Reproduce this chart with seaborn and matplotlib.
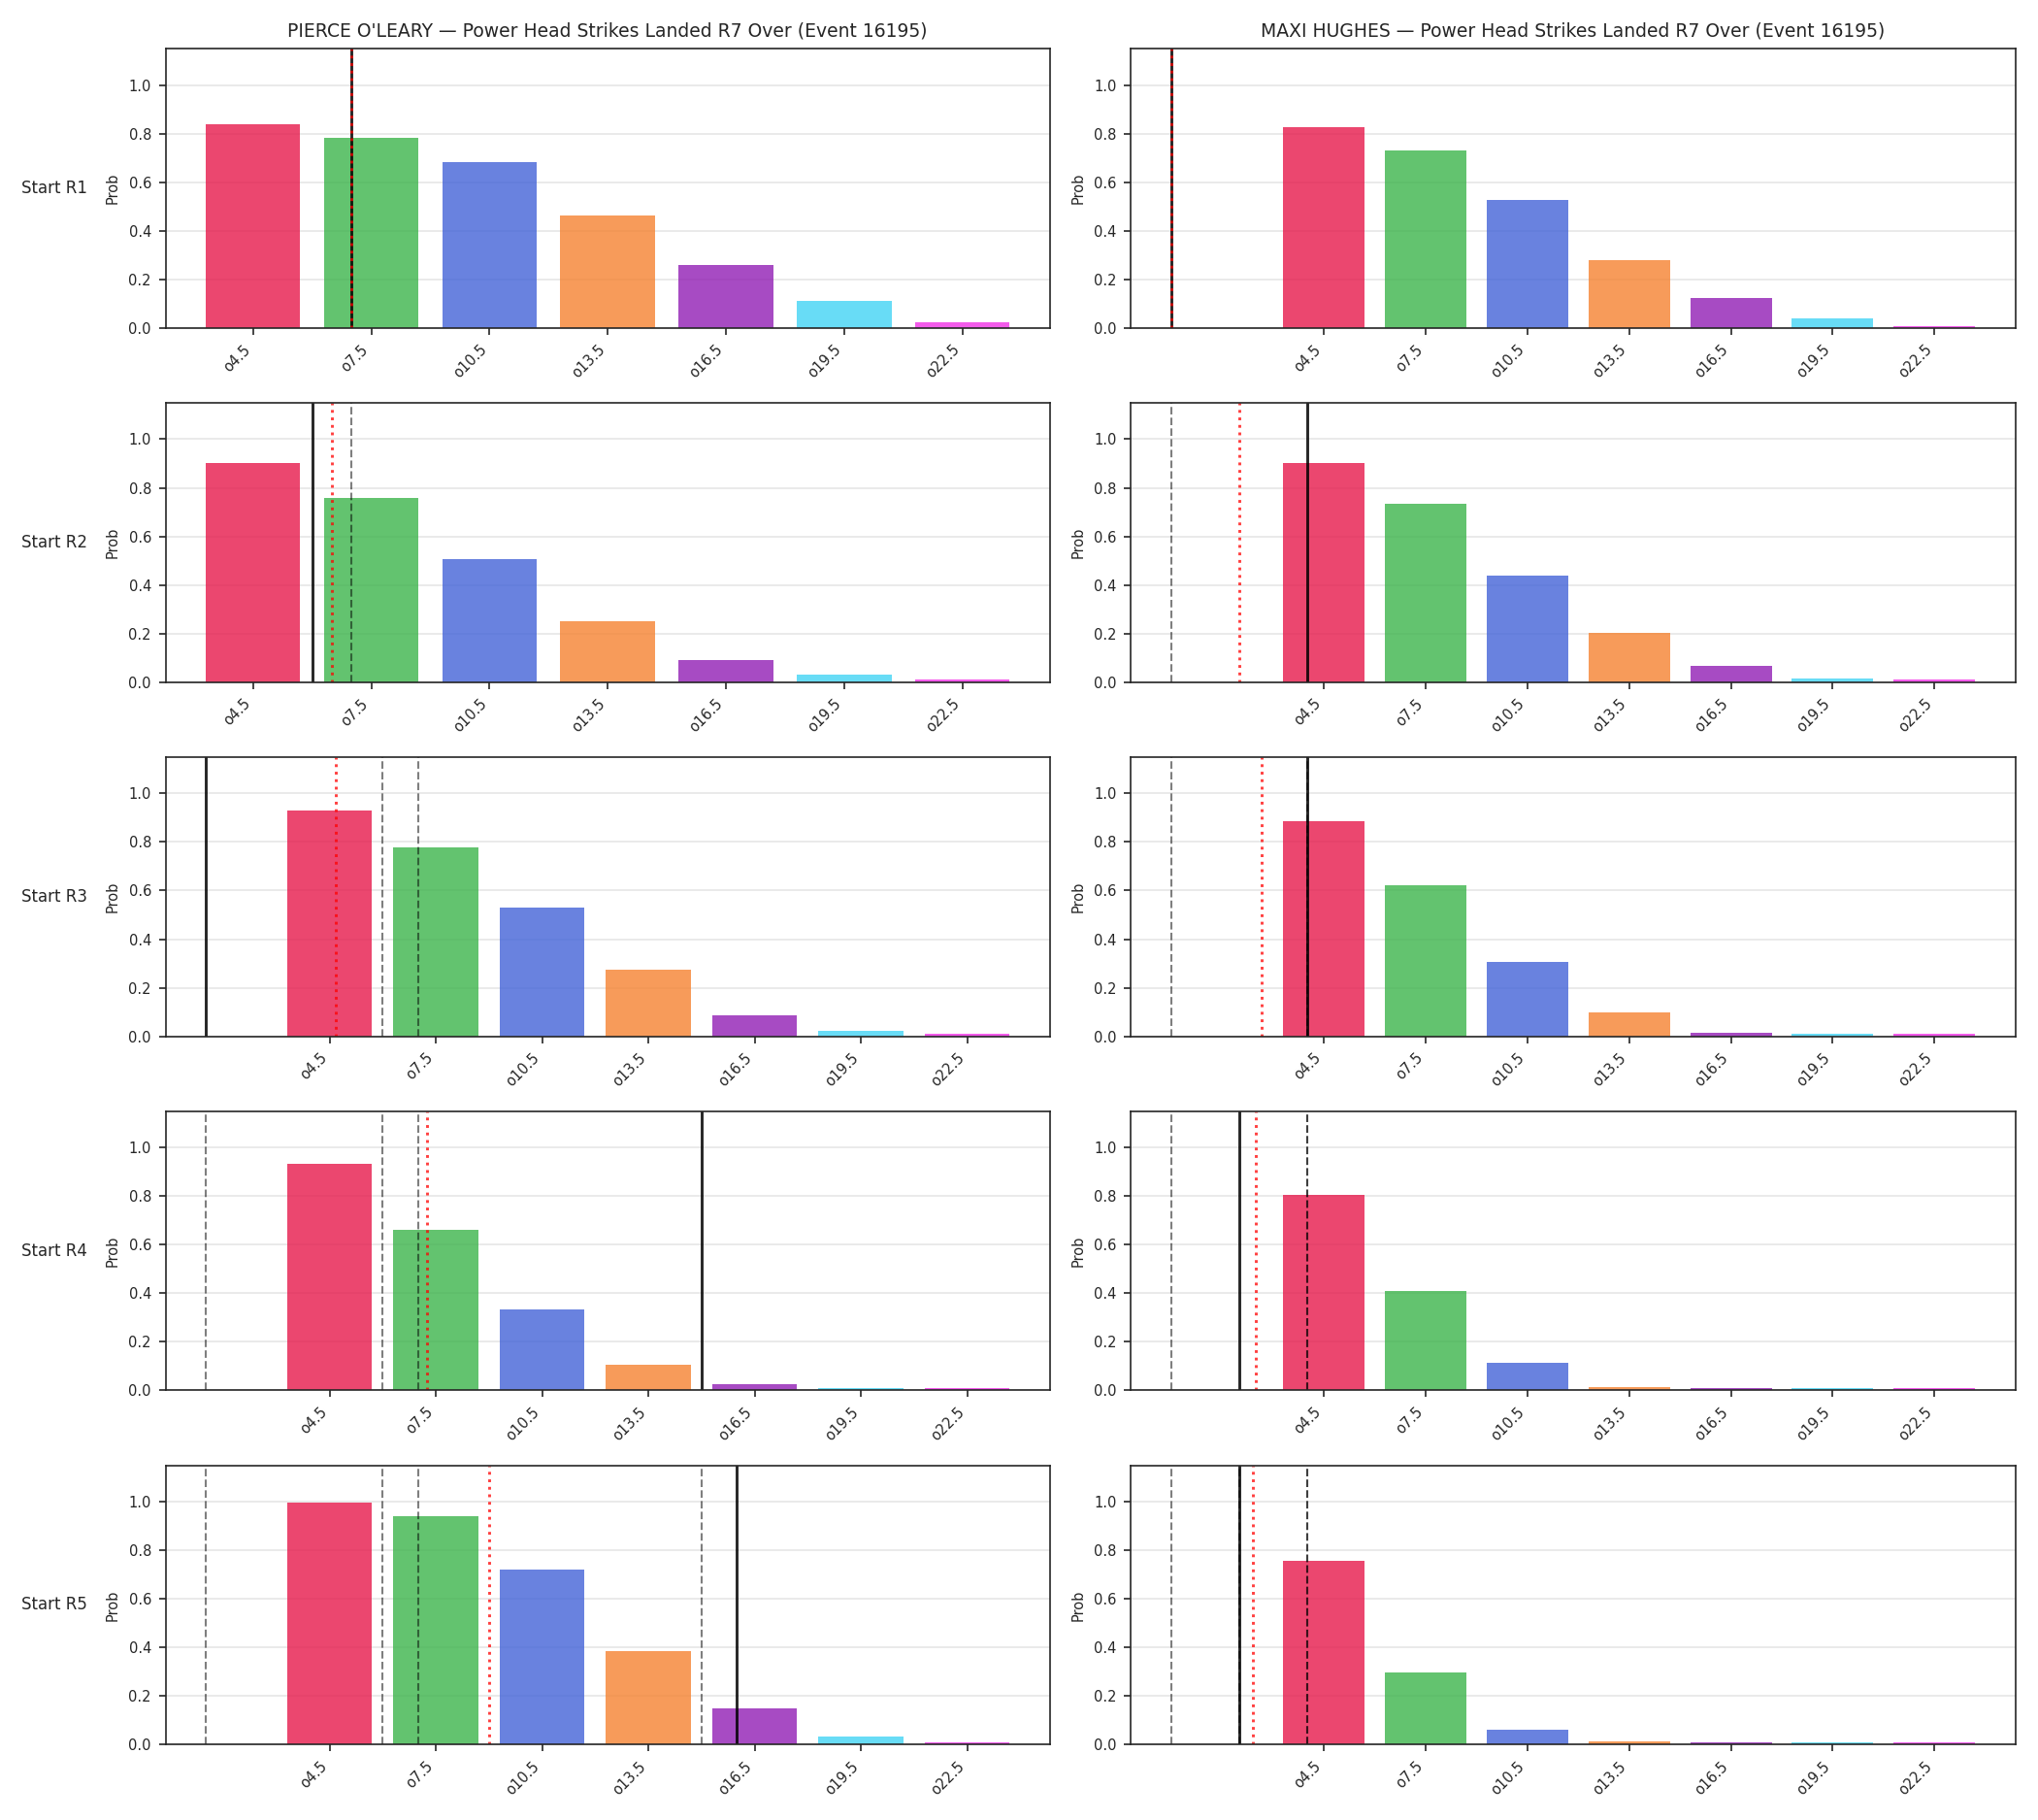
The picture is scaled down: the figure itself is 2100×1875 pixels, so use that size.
import pandas as pd
import seaborn as sns
import matplotlib.pyplot as plt

# Over lines (x positions) and their labels
lines = [4.5, 7.5, 10.5, 13.5, 16.5, 19.5, 22.5]
line_labels = ['o4.5', 'o7.5', 'o10.5', 'o13.5', 'o16.5', 'o19.5', 'o22.5']
bar_colors = ['#e6194b', '#3cb44b', '#4363d8', '#f58231', '#911eb4', '#42d4f4', '#f032e6']

rounds = ['Start R1', 'Start R2', 'Start R3', 'Start R4', 'Start R5']
fighters = ["PIERCE O'LEARY", 'MAXI HUGHES']

# P(over) per round
pierce_probs = [
    [0.837, 0.784, 0.681, 0.461, 0.260, 0.111, 0.023],
    [0.901, 0.760, 0.508, 0.251, 0.091, 0.031, 0.012],
    [0.928, 0.779, 0.531, 0.274, 0.086, 0.022, 0.009],
    [0.933, 0.660, 0.332, 0.106, 0.027, 0.009, 0.009],
    [0.996, 0.941, 0.721, 0.386, 0.151, 0.033, 0.009],
]
maxi_probs = [
    [0.828, 0.729, 0.527, 0.280, 0.124, 0.039, 0.009],
    [0.901, 0.733, 0.437, 0.203, 0.068, 0.016, 0.009],
    [0.885, 0.620, 0.307, 0.099, 0.016, 0.009, 0.009],
    [0.805, 0.410, 0.115, 0.014, 0.009, 0.009, 0.009],
    [0.757, 0.299, 0.063, 0.012, 0.009, 0.008, 0.009],
]

# solid black marker per round, red dotted marker per round
pierce_current = [7, 6, 1, 15, 16]
pierce_avg = [7.0, 6.5, 4.67, 7.25, 9.0]
maxi_current = [0, 4, 4, 2, 2]
maxi_avg = [0.0, 2.0, 2.67, 2.5, 2.4]

probs = {fighters[0]: pierce_probs, fighters[1]: maxi_probs}
current = {fighters[0]: pierce_current, fighters[1]: maxi_current}
avg = {fighters[0]: pierce_avg, fighters[1]: maxi_avg}

sns.set_style('ticks')
plt.rcParams.update({'xtick.labelsize': 7, 'ytick.labelsize': 7,
                     'axes.labelsize': 7, 'axes.titlesize': 9})

fig, axes = plt.subplots(5, 2, figsize=(14, 12.5), dpi=150)
fig.subplots_adjust(left=0.0812, right=0.9889, top=0.9733, bottom=0.0414,
                    wspace=0.0916, hspace=0.268)

palette = dict(zip(line_labels, bar_colors))

for c, name in enumerate(fighters):
    for r, rnd in enumerate(rounds):
        ax = axes[r, c]
        df = pd.DataFrame({'line': lines, 'label': line_labels, 'prob': probs[name][r]})
        sns.barplot(data=df, x='line', y='prob', hue='label', palette=palette,
                    native_scale=True, errorbar=None, legend=False, alpha=0.8,
                    saturation=1, linewidth=0, ax=ax)
        # earlier rounds' values
        for prev in current[name][:r]:
            ax.axvline(prev, color='black', ls='--', lw=1.0, alpha=0.5)
        ax.axvline(current[name][r], color='black', lw=1.4, alpha=0.85)
        ax.axvline(avg[name][r], color='red', ls=':', lw=1.4, alpha=0.75)

        ax.set_ylim(0, 1.15)
        ax.set_xticks(lines)
        ax.set_xticklabels(line_labels, rotation=45, ha='right')
        ax.set_xlabel('')
        ax.set_ylabel('Prob')
        ax.grid(axis='y', color='#e6e6e6', lw=0.8)
        ax.set_axisbelow(True)
        if r == 0:
            ax.set_title(f'{name} — Power Head Strikes Landed R7 Over (Event 16195)')
        if c == 0:
            ax.text(-0.0885, 0.5, rnd, transform=ax.transAxes, ha='right',
                    va='center', fontsize=8)

fig.savefig('out.png', dpi=150)
